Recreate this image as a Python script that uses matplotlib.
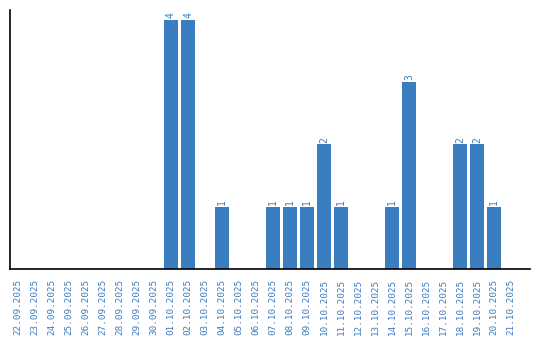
import matplotlib
matplotlib.use("Agg")
import matplotlib.pyplot as plt

# dates shown on the x axis
dates = ["22.09.2025", "23.09.2025", "24.09.2025", "25.09.2025", "26.09.2025",
         "27.09.2025", "28.09.2025", "29.09.2025", "30.09.2025", "01.10.2025",
         "02.10.2025", "03.10.2025", "04.10.2025", "05.10.2025", "06.10.2025",
         "07.10.2025", "08.10.2025", "09.10.2025", "10.10.2025", "11.10.2025",
         "12.10.2025", "13.10.2025", "14.10.2025", "15.10.2025", "16.10.2025",
         "17.10.2025", "18.10.2025", "19.10.2025", "20.10.2025", "21.10.2025"]
counts = [0, 0, 0, 0, 0, 0, 0, 0, 0, 4,
          4, 0, 1, 0, 0, 1, 1, 1, 2, 1,
          0, 0, 1, 3, 0, 0, 2, 2, 1, 0]

blue = "#3a7dc1"

fig = plt.figure(figsize=(5.4, 3.4), dpi=100)
ax = fig.add_axes([0.0185, 0.2088, 0.9625, 0.7618])

x = list(range(len(dates)))
ax.bar(x, counts, width=0.82, color=blue)

# value labels on non-empty bars
for xi, c in zip(x, counts):
    if c > 0:
        ax.text(xi, c + 0.03, str(c), rotation=90, ha="center", va="bottom",
                color=blue, fontsize=7, family="DejaVu Sans Mono")

ax.set_xlim(-0.47, 30.1)
ax.set_ylim(0, 4.16)
ax.set_xticks(x)
ax.set_xticklabels(dates, rotation=90, color=blue, fontsize=6.7,
                   family="DejaVu Sans Mono")
ax.tick_params(axis="x", length=0, pad=7)
ax.set_yticks([])

ax.spines["top"].set_visible(False)
ax.spines["right"].set_visible(False)
ax.spines["left"].set_linewidth(1.2)
ax.spines["bottom"].set_linewidth(1.2)

fig.savefig("out.png", dpi=100)
